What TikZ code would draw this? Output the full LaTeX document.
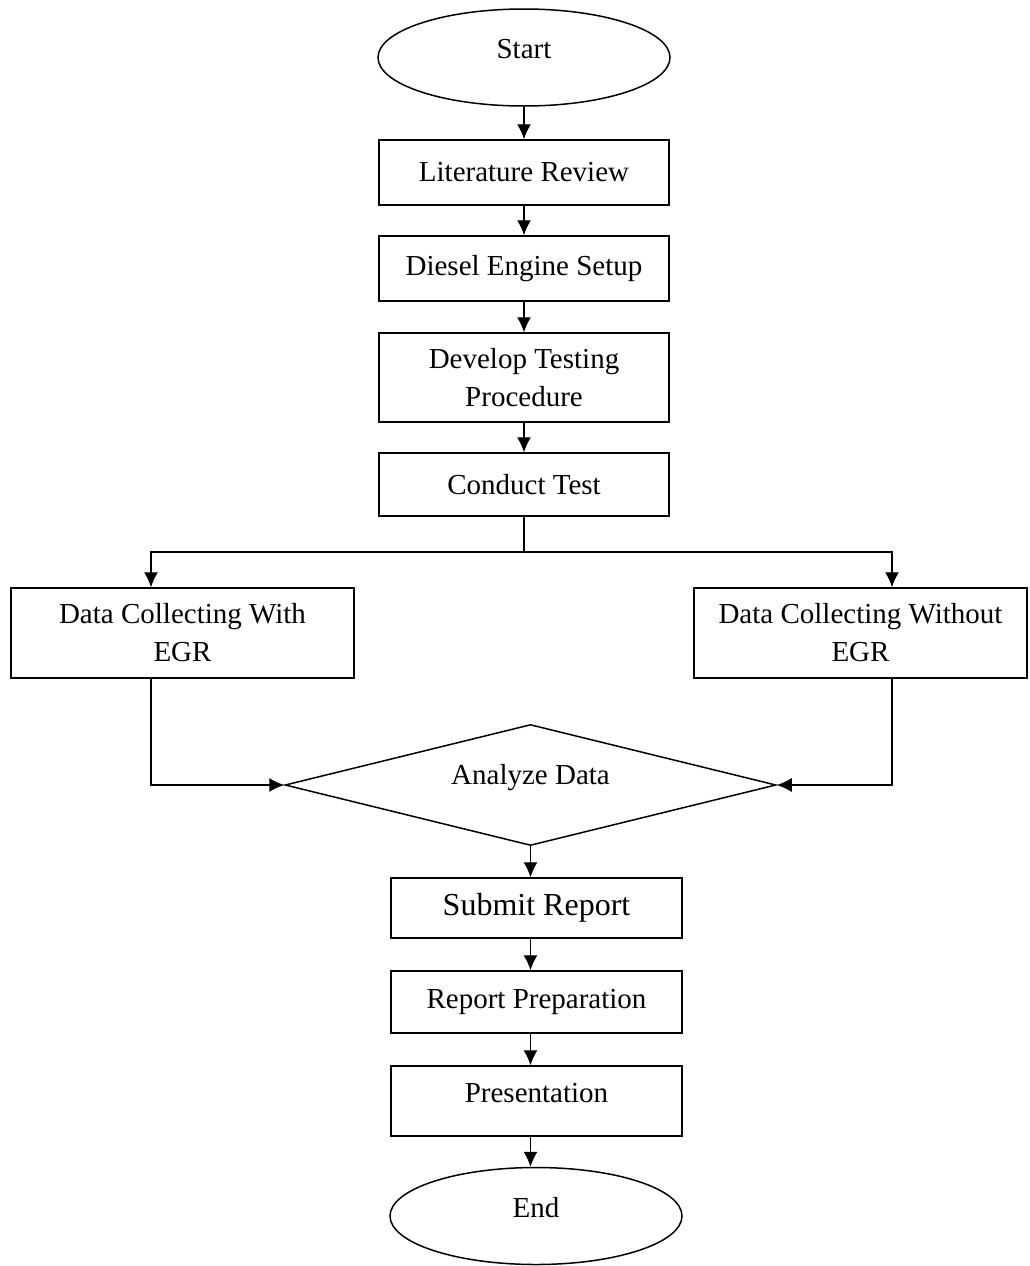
\documentclass[tikz,border=0pt]{standalone}
\usepackage{fontspec}
\setmainfont{Liberation Serif}
\usetikzlibrary{shapes.geometric,arrows.meta}
\begin{document}
\begin{tikzpicture}[x=1pt,y=-1pt,
  txt/.style={font=\fontsize{29}{38}\selectfont},
  box/.style={draw, line width=1.5pt, rectangle, inner sep=0pt, align=center, txt},
  term/.style={draw, line width=1.5pt, ellipse, inner sep=0pt, minimum width=292pt, minimum height=97pt},
  dec/.style={draw, line width=1.5pt, diamond, inner sep=0pt, aspect=4, minimum width=491pt, minimum height=121pt},
  conn/.style={line width=1.3pt},
  arr/.style={conn, -{Latex[length=15pt,width=14pt]}}]
\useasboundingbox (0,0) rectangle (1029,1266);

\node[term, label={[txt, yshift=8pt]center:Start}] (start) at (524,57.5) {};
\node[box, minimum width=290pt, minimum height=65pt] (lit) at (524,172.5) {Literature Review};
\node[box, minimum width=290pt, minimum height=65pt] (diesel) at (524,268.5) {Diesel Engine Setup};
\node[box, minimum width=290pt, minimum height=89pt] (dev) at (524,377.5) {Develop Testing\\Procedure};
\node[box, minimum width=290pt, minimum height=63pt] (conduct) at (524,484.5) {Conduct Test};
\node[box, minimum width=343pt, minimum height=90pt] (dataL) at (182.5,633) {Data Collecting With\\EGR};
\node[box, minimum width=333pt, minimum height=90pt] (dataR) at (860.5,633) {Data Collecting Without\\EGR};
\node[dec, label={[txt, yshift=7pt]center:Analyze Data}] (analyze) at (530.5,785) {};
\node[box, font=\fontsize{32}{38}\selectfont, minimum width=291pt, minimum height=60pt] (submit) at (536.5,908) {Submit Report};
\node[box, minimum width=291pt, minimum height=62pt] (prep) at (536.5,1002) {Report Preparation};
\node[box, minimum width=291pt, minimum height=70pt, label={[txt, yshift=8pt]center:Presentation}] (pres) at (536.5,1101) {};
\node[term, label={[txt, yshift=8pt]center:End}] (end) at (536,1216) {};

\coordinate (split) at (524,552);

\draw[arr] (start.south) -- (lit.north);
\draw[arr] (lit.south) -- (diesel.north);
\draw[arr] (diesel.south) -- (dev.north);
\draw[arr] (dev.south) -- (conduct.north);
\draw[conn] (conduct.south) -- (split);
\draw[arr] (split) -| ([xshift=-31.5pt]dataL.north);
\draw[arr] (split) -| ([xshift=31.5pt]dataR.north);
\draw[arr] ([xshift=-31.5pt]dataL.south) |- (analyze.west);
\draw[arr] ([xshift=31.5pt]dataR.south) |- (analyze.east);
\draw[arr] (analyze.south) -- (analyze.south |- submit.north);
\draw[arr] (submit.south -| analyze.south) -- (prep.north -| analyze.south);
\draw[arr] (prep.south -| analyze.south) -- (pres.north -| analyze.south);
\draw[arr] (pres.south -| analyze.south) -- (end.north -| analyze.south);
\end{tikzpicture}
\end{document}
